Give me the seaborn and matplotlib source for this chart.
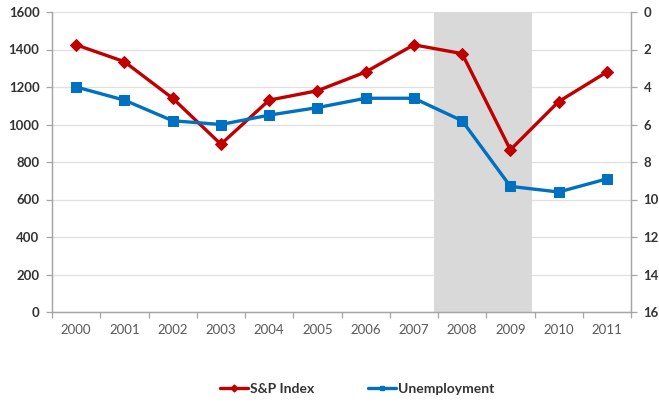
import matplotlib
matplotlib.use("Agg")
import matplotlib.pyplot as plt
from matplotlib.lines import Line2D
import seaborn as sns
import pandas as pd

years = [2000, 2001, 2002, 2003, 2004, 2005, 2006, 2007, 2008, 2009, 2010, 2011]
sp_index = [1425, 1335, 1140, 895, 1130, 1180, 1280, 1425, 1378, 865, 1122, 1280]
unemployment = [4.0, 4.7, 5.8, 6.0, 5.5, 5.1, 4.6, 4.6, 5.8, 9.3, 9.6, 8.9]
recession_years = [2008, 2009]
left_ticks = [0, 200, 400, 600, 800, 1000, 1200, 1400, 1600]
right_ticks = [0, 2, 4, 6, 8, 10, 12, 14, 16]

RED = "#C00000"
BLUE = "#0070C0"
AXIS_GREY = "#A6A6A6"
GRID_GREY = "#E0E0E0"

sns.set_theme(style="white")
plt.rcParams["font.family"] = ["Lato", "DejaVu Sans"]

df = pd.DataFrame({"year": years, "sp": sp_index, "unemp": unemployment})

fig = plt.figure(figsize=(6.59, 4.05), dpi=100)
ax = fig.add_axes([52 / 659, 1 - 312 / 405, (631 - 52) / 659, 300 / 405])
ax2 = ax.twinx()

# recession shading behind the series
ax.axvspan(recession_years[0] - 0.58, recession_years[-1] + 0.45,
           color="#D9D9D9", zorder=1, lw=0)

sns.lineplot(data=df, x="year", y="sp", ax=ax, color=RED, lw=2.4,
             marker="D", markersize=6.5, markeredgecolor=RED, zorder=3)
sns.lineplot(data=df, x="year", y="unemp", ax=ax2, color=BLUE, lw=2.4,
             marker="s", markersize=6.5, markeredgecolor=BLUE, zorder=3)

# left axis
ax.set_ylim(0, 1600)
ax.set_yticks(left_ticks)
ax.set_yticklabels([str(t) for t in left_ticks], fontsize=9.5,
                   fontweight="bold", color="#333333")
ax.yaxis.grid(True, color=GRID_GREY, lw=0.9, zorder=0)
ax.set_axisbelow(True)
ax.set_xlim(years[0] - 0.5, years[-1] + 0.5)
ax.set_xticks(years)
ax.set_xticklabels([str(y) for y in years], fontsize=9.5, color="#595959")
ax.set_xticks([y - 0.5 for y in years] + [years[-1] + 0.5], minor=True)
ax.tick_params(axis="x", which="major", length=0, pad=9)
ax.tick_params(axis="x", which="minor", length=4, width=0.9,
               color=AXIS_GREY, direction="out", bottom=True)
ax.tick_params(axis="y", length=4, width=0.9, color=AXIS_GREY,
               direction="out", left=True, pad=5)
ax.set_xlabel("")
ax.set_ylabel("")

# right axis, inverted
ax2.set_ylim(16, 0)
ax2.set_yticks(right_ticks)
ax2.set_yticklabels([str(t) for t in right_ticks], fontsize=9.5,
                    fontweight="bold", color="#333333")
ax2.tick_params(axis="y", length=4, width=0.9, color=AXIS_GREY,
                direction="out", right=True, pad=5)
ax2.set_ylabel("")
ax2.grid(False)

for a in (ax, ax2):
    a.spines["top"].set_visible(False)
    for side in ("left", "right", "bottom"):
        a.spines[side].set_color(AXIS_GREY)
        a.spines[side].set_linewidth(0.9)

if ax.get_legend():
    ax.get_legend().remove()
if ax2.get_legend():
    ax2.get_legend().remove()

handles = [
    Line2D([], [], color=RED, lw=2.4, marker="D", markersize=3.5),
    Line2D([], [], color=BLUE, lw=2.4, marker="s", markersize=3.5),
]
fig.legend(handles, ["S&P Index", "Unemployment"], loc="center",
           bbox_to_anchor=(357 / 659, 1 - 389 / 405), ncol=2, frameon=False,
           prop={"size": 10, "weight": "bold"}, handlelength=2.0,
           handletextpad=0.15, columnspacing=3.9, labelcolor="#333333")

fig.savefig("out.png", dpi=100)
